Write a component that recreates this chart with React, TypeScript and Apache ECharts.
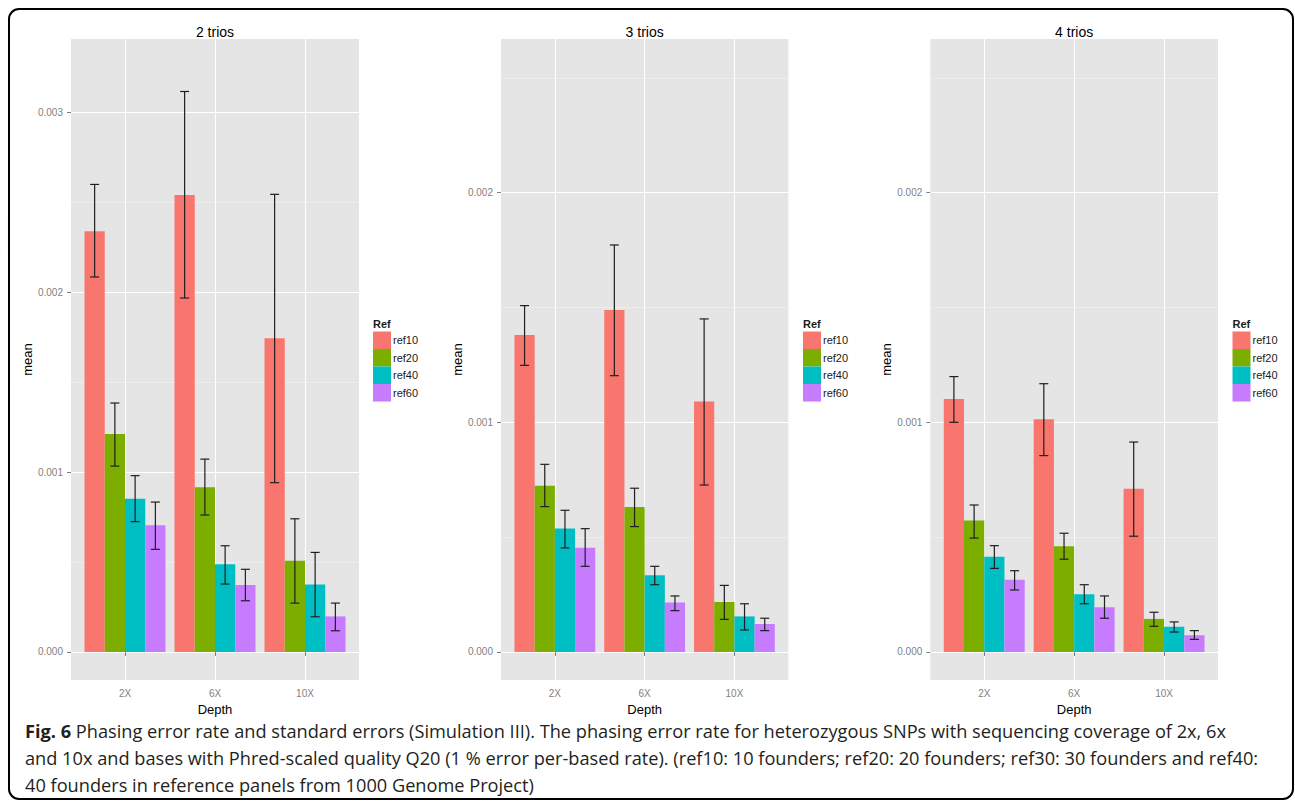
import React, { useEffect, useRef } from "react";
import * as echarts from "echarts";

// ---------- data ----------
const CATEGORIES = ["2X", "6X", "10X"];
const REFS = ["ref10", "ref20", "ref40", "ref60"];
const PANEL_TITLES = ["2 trios", "3 trios", "4 trios"];

// rows: depth (2X, 6X, 10X); columns: ref10, ref20, ref40, ref60
const trios2Mean = [
  [0.002341, 0.001212, 0.000853, 0.000705],
  [0.002542, 0.000916, 0.000488, 0.000373],
  [0.001745, 0.000508, 0.000376, 0.000198],
];
const trios2Low = [
  [0.002086, 0.001034, 0.000725, 0.000571],
  [0.001969, 0.000762, 0.000378, 0.000285],
  [0.000942, 0.000272, 0.000196, 0.000118],
];
const trios2High = [
  [0.002601, 0.001385, 0.000981, 0.000834],
  [0.003118, 0.001073, 0.000591, 0.00046],
  [0.002546, 0.000741, 0.000554, 0.000272],
];

const trios3Mean = [
  [0.00138, 0.000724, 0.000538, 0.000454],
  [0.001489, 0.000631, 0.000334, 0.000215],
  [0.001091, 0.000218, 0.000155, 0.000122],
];
const trios3Low = [
  [0.001248, 0.000633, 0.000453, 0.000373],
  [0.001203, 0.000546, 0.000293, 0.00018],
  [0.000727, 0.000142, 0.000096, 0.000093],
];
const trios3High = [
  [0.001508, 0.000817, 0.000617, 0.000537],
  [0.001772, 0.000713, 0.000373, 0.000244],
  [0.00145, 0.00029, 0.00021, 0.000147],
];

const trios4Mean = [
  [0.001101, 0.000572, 0.000415, 0.000315],
  [0.001013, 0.00046, 0.000251, 0.000195],
  [0.000711, 0.000144, 0.00011, 0.000073],
];
const trios4Low = [
  [0.001, 0.000496, 0.000364, 0.00027],
  [0.000855, 0.000404, 0.00021, 0.000147],
  [0.000504, 0.000112, 0.000087, 0.000055],
];
const trios4High = [
  [0.001199, 0.00064, 0.000463, 0.000354],
  [0.001168, 0.000517, 0.000293, 0.000244],
  [0.000914, 0.000173, 0.000131, 0.000093],
];

const yTicks2 = [0, 0.001, 0.002, 0.003];
const yTicks34 = [0, 0.001, 0.002];
const yMinorTicks = [0.0005, 0.0015, 0.0025];
const yRange2 = [-0.0001558, 0.00341];
const yRange34 = [-0.0001219, 0.0026687];

const CAPTION_LINES = [
  "{b|Fig. 6} Phasing error rate and standard errors (Simulation III). The phasing error rate for heterozygous SNPs with sequencing coverage of 2x, 6x",
  "and 10x and bases with Phred-scaled quality Q20 (1 % error per-based rate). (ref10: 10 founders; ref20: 20 founders; ref30: 30 founders and ref40:",
  "40 founders in reference panels from 1000 Genome Project)",
];

// ---------- styling / layout ----------
const COLORS = ["#F8766D", "#7CAE00", "#00BFC4", "#C77CFF"];
const FONT = "'Liberation Sans', Arial, sans-serif";
const CAPTION_FONT = "'Open Sans', 'Noto Sans', sans-serif";
const CAPTION_SIZE = 18.2;
const PLOT_TOP = 39;
const PLOT_H = 641;
const BAR_W = 0.225;
const WHISKER_HALF = 0.05;

const PANELS = [
  { left: 71, width: 288, legendX: 373, mean: trios2Mean, low: trios2Low, high: trios2High, ticks: yTicks2, range: yRange2 },
  { left: 501, width: 287.3, legendX: 803, mean: trios3Mean, low: trios3Low, high: trios3High, ticks: yTicks34, range: yRange34 },
  { left: 930.3, width: 287.7, legendX: 1232.5, mean: trios4Mean, low: trios4Low, high: trios4High, ticks: yTicks34, range: yRange34 },
];

function buildOption() {
  const grid: any[] = [];
  const xAxis: any[] = [];
  const yAxis: any[] = [];
  const series: any[] = [];
  const legend: any[] = [];
  const graphic: any[] = [];

  PANELS.forEach((p, i) => {
    grid.push({
      left: p.left,
      top: PLOT_TOP,
      width: p.width,
      height: PLOT_H,
      show: true,
      backgroundColor: "#E5E5E5",
      borderWidth: 0,
    });
    xAxis.push({
      type: "value",
      gridIndex: i,
      min: 0.4,
      max: 3.6,
      axisLine: { show: false },
      axisTick: {
        show: true,
        length: 4,
        customValues: [1, 2, 3],
        lineStyle: { color: "#7F7F7F", width: 1 },
      },
      axisLabel: {
        customValues: [1, 2, 3],
        formatter: (v: number) => CATEGORIES[Math.round(v) - 1] ?? "",
        color: "#7F7F7F",
        fontSize: 10,
        margin: 8,
        fontFamily: FONT,
      },
      splitLine: { show: true, lineStyle: { color: "#FFFFFF", width: 1 } },
      name: "Depth",
      nameLocation: "middle",
      nameGap: 18,
      nameTextStyle: { color: "#000", fontSize: 13, fontFamily: FONT },
    });
    // major y axis
    yAxis.push({
      type: "value",
      gridIndex: i,
      min: p.range[0],
      max: p.range[1],
      position: "left",
      axisLine: { show: false },
      axisTick: {
        show: true,
        length: 4,
        customValues: p.ticks,
        lineStyle: { color: "#7F7F7F", width: 1 },
      },
      axisLabel: {
        customValues: p.ticks,
        formatter: (v: number) => v.toFixed(3),
        color: "#7F7F7F",
        fontSize: 10,
        margin: 8,
        fontFamily: FONT,
      },
      splitLine: { show: true, lineStyle: { color: "#FFFFFF", width: 1 } },
      name: "mean",
      nameLocation: "middle",
      nameRotate: 90,
      nameGap: 27,
      nameTextStyle: { color: "#000", fontSize: 13, fontFamily: FONT },
    });
    // minor grid y axis
    yAxis.push({
      type: "value",
      gridIndex: i,
      min: p.range[0],
      max: p.range[1],
      position: "left",
      axisLine: { show: false },
      axisTick: {
        show: true,
        length: 0,
        customValues: yMinorTicks,
        lineStyle: { color: "rgba(0,0,0,0)" },
      },
      axisLabel: { show: false, customValues: yMinorTicks },
      splitLine: { show: true, lineStyle: { color: "#F2F2F2", width: 0.6 } },
    });

    REFS.forEach((ref, r) => {
      series.push({
        type: "custom",
        name: ref,
        coordinateSystem: "cartesian2d",
        xAxisIndex: i,
        yAxisIndex: 2 * i,
        itemStyle: { color: COLORS[r] },
        encode: { x: 0, y: 1 },
        data: CATEGORIES.map((_, k) => [k + 1, p.mean[k][r]]),
        renderItem: (params: any, api: any) => {
          const cx = api.value(0) + (r - 1.5) * BAR_W;
          const v = api.value(1);
          const a = api.coord([cx - BAR_W / 2, v]);
          const b = api.coord([cx + BAR_W / 2, 0]);
          return {
            type: "rect",
            shape: { x: a[0], y: a[1], width: b[0] - a[0], height: b[1] - a[1] },
            style: { fill: api.visual("color") },
          };
        },
      });
    });

    const errData: number[][] = [];
    CATEGORIES.forEach((_, k) => {
      REFS.forEach((__, r) => {
        errData.push([k + 1, r, p.low[k][r], p.high[k][r]]);
      });
    });
    series.push({
      type: "custom",
      name: "se",
      coordinateSystem: "cartesian2d",
      xAxisIndex: i,
      yAxisIndex: 2 * i,
      encode: { x: 0, y: [2, 3] },
      data: errData,
      z: 5,
      renderItem: (params: any, api: any) => {
        const cx = api.value(0) + (api.value(1) - 1.5) * BAR_W;
        const lo = api.value(2);
        const hi = api.value(3);
        const top = api.coord([cx, hi]);
        const bot = api.coord([cx, lo]);
        const tl = api.coord([cx - WHISKER_HALF, hi]);
        const tr = api.coord([cx + WHISKER_HALF, hi]);
        const bl = api.coord([cx - WHISKER_HALF, lo]);
        const br = api.coord([cx + WHISKER_HALF, lo]);
        const st = { stroke: "#1f1f1f", lineWidth: 1.2 };
        return {
          type: "group",
          children: [
            { type: "line", shape: { x1: top[0], y1: top[1], x2: bot[0], y2: bot[1] }, style: st },
            { type: "line", shape: { x1: tl[0], y1: tl[1], x2: tr[0], y2: tr[1] }, style: st },
            { type: "line", shape: { x1: bl[0], y1: bl[1], x2: br[0], y2: br[1] }, style: st },
          ],
        };
      },
    });

    legend.push({
      left: p.legendX,
      top: 331.5,
      orient: "vertical",
      data: REFS,
      icon: "rect",
      itemWidth: 18,
      itemHeight: 17.5,
      itemGap: 0,
      padding: 0,
      selectedMode: false,
      textStyle: { fontSize: 11, color: "#1a1a1a", fontFamily: FONT, padding: [0, 0, 0, -3] },
    });

    graphic.push({
      type: "text",
      x: p.left + p.width / 2,
      y: 32,
      style: {
        text: PANEL_TITLES[i],
        fontSize: 14,
        fontFamily: FONT,
        fill: "#000",
        align: "center",
        verticalAlign: "middle",
      },
    });
    graphic.push({
      type: "text",
      x: p.legendX,
      y: 324,
      style: {
        text: "Ref",
        fontSize: 11,
        fontWeight: "bold",
        fontFamily: FONT,
        fill: "#1a1a1a",
        align: "left",
        verticalAlign: "middle",
      },
    });
  });

  graphic.push({
    type: "rect",
    shape: { x: 9, y: 9, width: 1284, height: 790, r: 10 },
    style: { fill: "none", stroke: "#000", lineWidth: 2 },
    z: 10,
  });

  const captionY = [731, 758, 785];
  CAPTION_LINES.forEach((line, j) => {
    graphic.push({
      type: "text",
      x: 25,
      y: captionY[j],
      style: {
        text: line,
        fontSize: CAPTION_SIZE,
        fontFamily: CAPTION_FONT,
        fill: "#231F20",
        align: "left",
        verticalAlign: "middle",
        rich: {
          b: { fontSize: CAPTION_SIZE, fontWeight: "bold", fontFamily: CAPTION_FONT, fill: "#231F20" },
        },
      },
    });
  });

  return {
    animation: false,
    backgroundColor: "#FFFFFF",
    grid,
    xAxis,
    yAxis,
    series,
    legend,
    graphic,
  };
}

export default function App() {
  const ref = useRef<HTMLDivElement>(null);
  useEffect(() => {
    if (!ref.current) return;
    const chart = echarts.init(ref.current, undefined, { renderer: "svg" });
    chart.setOption(buildOption() as any);
    return () => chart.dispose();
  }, []);
  return (
    <div
      ref={ref}
      style={{ position: "fixed", left: 0, top: 0, width: 1295, height: 805, background: "#fff" }}
    />
  );
}
